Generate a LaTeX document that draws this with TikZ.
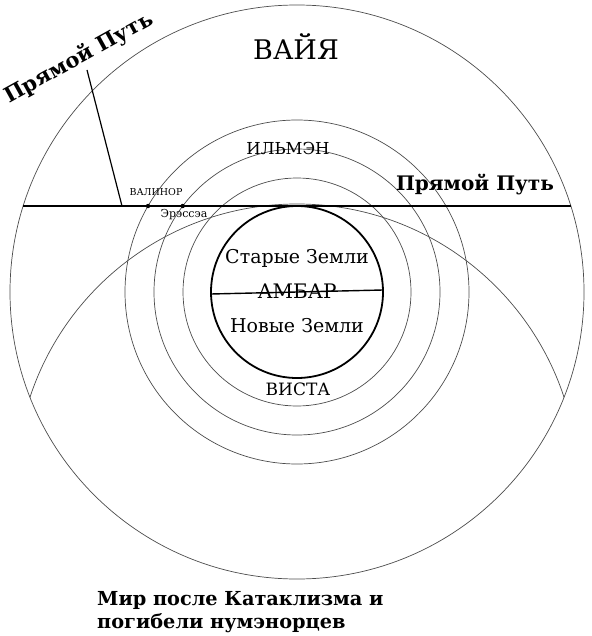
\documentclass[tikz,border=0pt]{standalone}
\usepackage{fontspec}
\setmainfont{DejaVu Serif}
\begin{document}
\begin{tikzpicture}[x=1pt,y=-1pt,
  ring/.style={circle, draw=black!70, line width=0.7pt, inner sep=0pt, outer sep=0pt},
  lbl/.style={inner sep=0pt, anchor=base, text=black},
  thickline/.style={line width=1.8pt, draw=black}]
\useasboundingbox (0,0) rectangle (591,636);
\coordinate (c) at (297,292);
% outer sphere
\node[ring, minimum size=574pt] (vaiya) at (c) {};
% big arc (clipped circle)
\begin{scope}
  \clip (c) circle [radius=287pt];
  \draw[draw=black!70, line width=0.7pt] (297,485) circle [radius=281pt];
\end{scope}
% concentric rings
\node[ring, minimum size=344pt] (ring3) at (c) {};
\node[ring, minimum size=286pt] (ring2) at (c) {};
\node[ring, minimum size=228pt] (ring1) at (c) {};
% Ambar
\node[circle, draw=black, line width=1.8pt, inner sep=0pt, outer sep=0pt, minimum size=172pt] (ambar) at (c) {};
\coordinate (ambarW) at (211,294);
\coordinate (ambarE) at (383,290);
\draw[line width=1.4pt] (ambarW) -- (ambarE);
% straight road
\coordinate (roadW) at (23.2,206);
\coordinate (roadE) at (570.8,206);
\draw[thickline] (roadW) -- (roadE);
\coordinate (slantfoot) at (122,206);
\coordinate (slanttop) at (87,70);
\draw[line width=1.2pt] (slantfoot) -- (slanttop);
% dots
\coordinate (valinordot) at (148.04,206);
\coordinate (eresseadot) at (182.7,206);
\fill (valinordot) circle [radius=2.2pt];
\fill (eresseadot) circle [radius=2.2pt];
% labels
\node[lbl, font=\fontsize{27}{30}\selectfont] (vaiyalbl) at (296,60) {ВАЙЯ};
\node[lbl, font=\fontsize{16.5}{19}\selectfont] (ilmen) at (288,155) {ИЛЬМЭН};
\node[lbl, font=\fontsize{17}{20}\selectfont] (vista) at (298,395) {ВИСТА};
\node[lbl, font=\fontsize{9.5}{11}\selectfont] (valinor) at (156,196) {ВАЛИНОР};
\node[lbl, font=\fontsize{11}{13}\selectfont] (eressea) at (184,217) {Эрэссэа};
\node[lbl, font=\fontsize{19}{22}\selectfont] (old) at (297,263) {Старые Земли};
\node[lbl, font=\fontsize{20}{23}\selectfont] (ambarlbl) at (297,298) {АМБАР};
\node[lbl, font=\fontsize{19}{22}\selectfont] (new) at (297,332) {Новые Земли};
\node[lbl, font=\fontsize{20}{23}\selectfont\bfseries] (road1) at (475,190) {Прямой Путь};
\node[inner sep=0pt, rotate=29, font=\fontsize{21}{24}\selectfont\bfseries] (road2) at (79,58) {Прямой Путь};
\node[inner sep=0pt, anchor=base west, font=\fontsize{19.3}{22}\selectfont\bfseries] (title1) at (97,605) {Мир после Катаклизма и};
\node[inner sep=0pt, anchor=base west, font=\fontsize{19.3}{22}\selectfont\bfseries] (title2) at (97,628) {погибели нумэнорцев};
\end{tikzpicture}
\end{document}
